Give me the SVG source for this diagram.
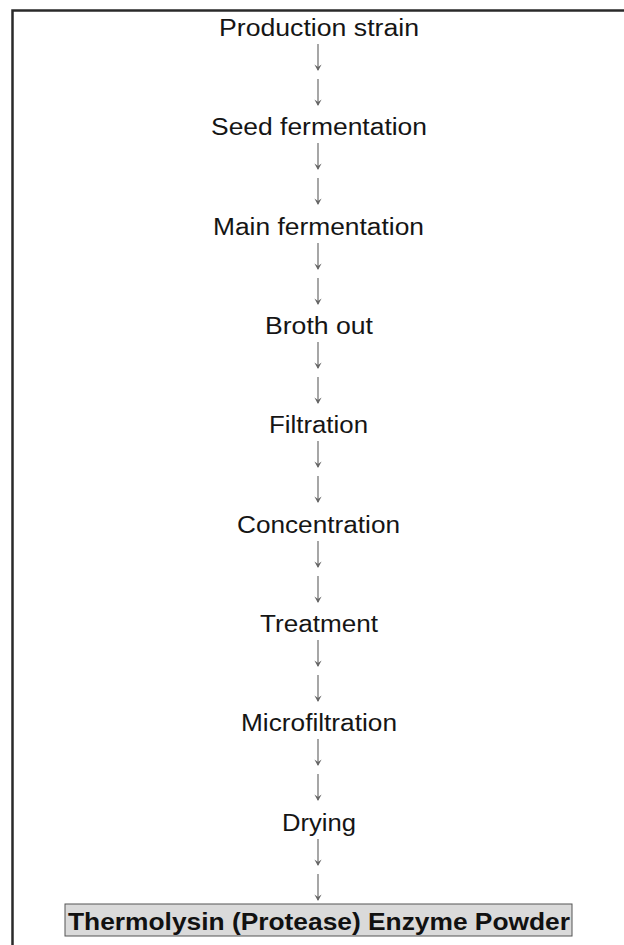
<svg xmlns="http://www.w3.org/2000/svg" width="624" height="945" viewBox="0 0 624 945">
<style>
.lbl{font-family:"Liberation Sans",Arial,sans-serif;font-size:23px;fill:#151515;text-anchor:middle}
.fin{font-family:"Liberation Sans",Arial,sans-serif;font-size:23.5px;font-weight:bold;fill:#111;text-anchor:middle}
.shaft{stroke:#777;stroke-width:1.3;fill:none}
.head{fill:#666}
</style>
<defs>
<g id="arr">
<line class="shaft" x1="0" y1="0" x2="0" y2="26"/>
<path class="head" d="M0,27 L-3.6,20.5 L0,23 L3.6,20.5 Z"/>
</g>
</defs>
<rect width="624" height="945" fill="#fff"/>
<path d="M12.5,946 V10.5 H625" fill="none" stroke="#2a2a2a" stroke-width="2.5"/>
<g id="connectors">
<use href="#arr" x="318" y="44"/>
<use href="#arr" x="318" y="79"/>
<use href="#arr" x="318" y="143"/>
<use href="#arr" x="318" y="178"/>
<use href="#arr" x="318" y="243"/>
<use href="#arr" x="318" y="278"/>
<use href="#arr" x="318" y="342"/>
<use href="#arr" x="318" y="377"/>
<use href="#arr" x="318" y="441"/>
<use href="#arr" x="318" y="476"/>
<use href="#arr" x="318" y="541"/>
<use href="#arr" x="318" y="576"/>
<use href="#arr" x="318" y="640"/>
<use href="#arr" x="318" y="675"/>
<use href="#arr" x="318" y="739"/>
<use href="#arr" x="318" y="774"/>
<use href="#arr" x="318" y="839"/>
<use href="#arr" x="318" y="874"/>
</g>
<g id="n1"><text class="lbl" x="319" y="36" textLength="200" lengthAdjust="spacingAndGlyphs">Production strain</text></g>
<g id="n2"><text class="lbl" x="319" y="135" textLength="216" lengthAdjust="spacingAndGlyphs">Seed fermentation</text></g>
<g id="n3"><text class="lbl" x="318.5" y="235" textLength="211" lengthAdjust="spacingAndGlyphs">Main fermentation</text></g>
<g id="n4"><text class="lbl" x="319" y="334" textLength="108" lengthAdjust="spacingAndGlyphs">Broth out</text></g>
<g id="n5"><text class="lbl" x="318.5" y="433" textLength="99" lengthAdjust="spacingAndGlyphs">Filtration</text></g>
<g id="n6"><text class="lbl" x="318.5" y="533" textLength="163" lengthAdjust="spacingAndGlyphs">Concentration</text></g>
<g id="n7"><text class="lbl" x="319" y="632" textLength="118" lengthAdjust="spacingAndGlyphs">Treatment</text></g>
<g id="n8"><text class="lbl" x="319" y="731" textLength="156" lengthAdjust="spacingAndGlyphs">Microfiltration</text></g>
<g id="n9"><text class="lbl" x="319" y="831" textLength="74" lengthAdjust="spacingAndGlyphs">Drying</text></g>
<g id="n10">
<rect x="65" y="904" width="507" height="32" fill="#dadada" stroke="#555" stroke-width="1"/>
<text class="fin" x="319" y="930" textLength="502" lengthAdjust="spacingAndGlyphs">Thermolysin (Protease) Enzyme Powder</text>
</g>
</svg>
